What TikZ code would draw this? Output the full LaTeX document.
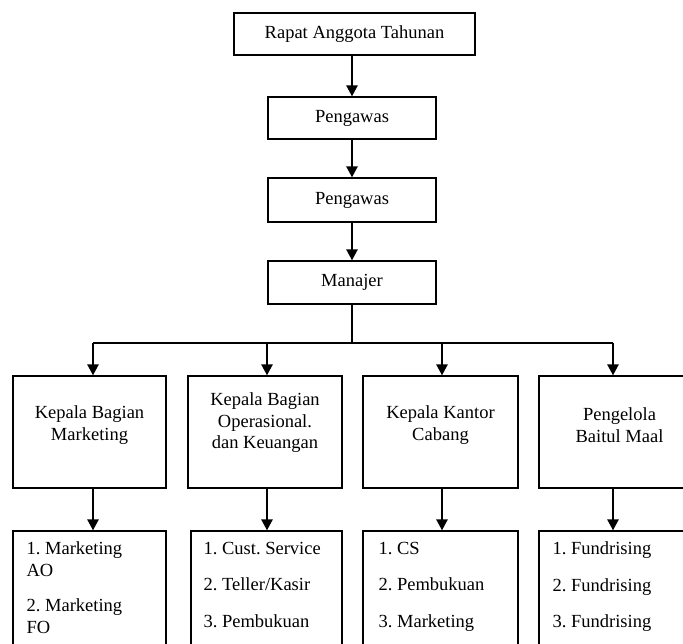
\documentclass[tikz,border=0pt]{standalone}
\usepackage{fontspec}
\setmainfont{Liberation Serif}
\usetikzlibrary{arrows.meta,calc}
\frenchspacing
\begin{document}
\begin{tikzpicture}[x=1pt,y=-1pt,
  box/.style={draw,line width=1.2pt,inner sep=0pt,font=\fontsize{18.5}{21.5}\selectfont,align=center},
  lbl/.style={font=\fontsize{18.5}{21.5}\selectfont,align=center,inner sep=0pt},
  items/.style={font=\fontsize{18.5}{22}\selectfont,align=left,inner sep=0pt,anchor=north west},
  arr/.style={line width=2.4pt,-{Triangle[length=11pt,width=11pt]}},
  ln/.style={line width=2.4pt}]
\useasboundingbox (0,0) rectangle (683,644);
\clip (0,0) rectangle (683,644);
% top chain
\node[box,minimum width=241pt,minimum height=42pt] (rat) at (354.5,34) {Rapat Anggota Tahunan};
\node[box,minimum width=168pt,minimum height=42pt] (p1) at (352,118) {Pengawas};
\node[box,minimum width=168pt,minimum height=44pt] (p2) at (352,200) {Pengawas};
\node[box,minimum width=168pt,minimum height=43pt] (man) at (352,282.5) {Manajer};
\draw[arr] (rat.south -| p1) -- (p1.north);
\draw[arr] (p1.south) -- (p2.north);
\draw[arr] (p2.south) -- (man.north);
% heads
\node[box,minimum width=153pt,minimum height=112pt] (k1) at (89.5,432) {};
\node[box,minimum width=154pt,minimum height=112pt] (k2) at (265,432) {};
\node[box,minimum width=155pt,minimum height=112pt] (k3) at (440.5,432) {};
\node[box,minimum width=161pt,minimum height=112pt] (k4) at (619.5,432) {};
\node[lbl] (tk1) at ($(k1)+(0,-7)$) {Kepala Bagian\\Marketing};
\node[lbl] (tk2) at ($(k2)+(0,-9)$) {Kepala Bagian\\Operasional.\\dan Keuangan};
\node[lbl] (tk3) at ($(k3)+(0,-7)$) {Kepala Kantor\\Cabang};
\node[lbl] (tk4) at ($(k4)+(0,-7)$) {Pengelola\\Baitul Maal};
% bus
\coordinate (j1) at (93,343);
\coordinate (j2) at (267,343);
\coordinate (j3) at (442,343);
\coordinate (j4) at (613,343);
\draw[ln] (man.south -| p1) -- (man.south |- j1);
\draw[ln] (j1) -- (j4);
\draw[arr] (j1) -- (j1 |- k1.north);
\draw[arr] (j2) -- (j2 |- k2.north);
\draw[arr] (j3) -- (j3 |- k3.north);
\draw[arr] (j4) -- (j4 |- k4.north);
% staff boxes
\node[box,minimum width=153pt,minimum height=129pt] (l1) at (89.5,595.5) {};
\node[box,minimum width=151pt,minimum height=129pt] (l2) at (266.5,595.5) {};
\node[box,minimum width=155pt,minimum height=129pt] (l3) at (440.5,595.5) {};
\node[box,minimum width=161pt,minimum height=129pt] (l4) at (619.5,595.5) {};
\draw[arr] (j1 |- k1.south) -- (j1 |- l1.north);
\draw[arr] (j2 |- k2.south) -- (j2 |- l2.north);
\draw[arr] (j3 |- k3.south) -- (j3 |- l3.north);
\draw[arr] (j4 |- k4.south) -- (j4 |- l4.north);
\node[items] (s1) at ($(l1.north west)+(14,11.5)$) {1. Marketing\\AO\\[13pt]2. Marketing\\FO};
\node[items] (s2) at ($(l2.north west)+(13,11.5)$) {1. Cust. Service\\[14.5pt]2. Teller/Kasir\\[14.5pt]3. Pembukuan};
\node[items] (s3) at ($(l3.north west)+(16,11.5)$) {1. CS\\[14.5pt]2. Pembukuan\\[14.5pt]3. Marketing};
\node[items] (s4) at ($(l4.north west)+(14,11.5)$) {1. Fundrising\\[14.5pt]2. Fundrising\\[14.5pt]3. Fundrising};
\end{tikzpicture}
\end{document}
